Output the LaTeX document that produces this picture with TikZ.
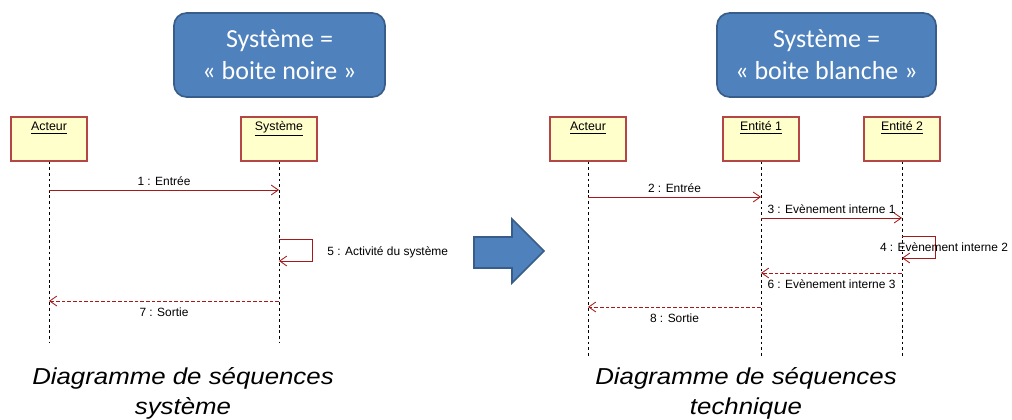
\documentclass[tikz,border=0pt]{standalone}
\usepackage{fontspec}
\setmainfont{Liberation Sans}
\newfontfamily\calibrifont{Carlito}
\newfontfamily\legendfont[FakeStretch=1.12]{Liberation Sans}
\usepackage{tikz}
\usetikzlibrary{arrows.meta,positioning}
\definecolor{objfill}{RGB}{255,255,204}
\definecolor{objborder}{RGB}{181,70,70}
\definecolor{msgred}{RGB}{165,25,25}
\definecolor{titlefill}{RGB}{79,129,189}
\definecolor{titleedge}{RGB}{56,93,138}

\begin{document}
\begin{tikzpicture}[x=0.025cm,y=-0.025cm,
  obj/.style={draw=objborder,line width=0.9pt,fill=objfill,minimum width=1.9cm,inner xsep=2pt,inner ysep=0.1cm,text height=0.25cm,text depth=0.65cm,font=\fontsize{8.8}{10}\selectfont},
  life/.style={line width=0.5pt,dash pattern=on 2pt off 2pt},
  msg/.style={draw=msgred,line width=0.6pt,-{Straight Barb[length=5pt,width=7pt]}},
  ret/.style={msg,dash pattern=on 2.5pt off 1.5pt},
  lbl/.style={font=\fontsize{8.5}{10}\selectfont,inner sep=1.5pt},
  titre/.style={draw=titleedge,line width=1.2pt,fill=titlefill,rounded corners=9pt,text=white,minimum height=2.1cm,align=center,font=\calibrifont\fontsize{18.5}{23}\selectfont},
  legende/.style={align=center,anchor=north,font=\legendfont\itshape\fontsize{16.4}{21.3}\selectfont}]
  \useasboundingbox(0,0)rectangle(1012,420);

  \node[titre,minimum width=5.275cm](noire) at (279.5,55){Système =\\« boite noire »};
  \node[titre,minimum width=5.475cm](blanche) at (826.5,55){Système =\\« boite blanche »};

  \node[obj](acteurA) at (49,139){\underline{Acteur}};
  \node[obj](systemeA) at (279,139){\underline{Système}};
  \draw[life](acteurA.south)--(acteurA|-0,343);
  \draw[life](systemeA.south)--(systemeA|-0,343);

  \draw[msg](acteurA|-0,190)--node[lbl,above=1.5pt]{1 : Entrée}(systemeA|-0,190);
  \draw[msg](systemeA|-0,239)--++(33,0)|-(systemeA|-0,261);
  \node[lbl,anchor=west](act5) at (325,252){5 : Activité du système};
  \draw[ret](systemeA|-0,301)--node[lbl,below=3pt]{7 : Sortie}(acteurA|-0,301);

  \draw[fill=titlefill,draw=titleedge,line width=1.2pt](474,237)--(512,237)--(512,219)--(544,251)--(512,283)--(512,268)--(474,268)--cycle;

  \node[obj](acteurB) at (588,139){\underline{Acteur}};
  \node[obj](entite1) at (761,139){\underline{Entité 1}};
  \node[obj](entite2) at (902,139){\underline{Entité 2}};
  \draw[life](acteurB.south)--(acteurB|-0,356);
  \draw[life](entite1.south)--(entite1|-0,356);
  \draw[life](entite2.south)--(entite2|-0,356);

  \draw[msg](acteurB|-0,197)--node[lbl,above=1.5pt]{2 : Entrée}(entite1|-0,197);
  \draw[msg](entite1|-0,218)--node[lbl,above=1.5pt]{3 : Evènement interne 1}(entite2|-0,218);
  \draw[msg](entite2|-0,236)--++(33,0)|-(entite2|-0,258);
  \node[lbl](evt4) at (944,247){4 : Evènement interne 2};
  \draw[ret](entite2|-0,273)--node[lbl,below=3pt]{6 : Evènement interne 3}(entite1|-0,273);
  \draw[ret](entite1|-0,307)--node[lbl,below=3pt]{8 : Sortie}(acteurB|-0,307);

  \node[legende](legA) at (183,363){Diagramme de séquences\\système};
  \node[legende](legB) at (746,363){Diagramme de séquences\\technique};
\end{tikzpicture}
\end{document}
